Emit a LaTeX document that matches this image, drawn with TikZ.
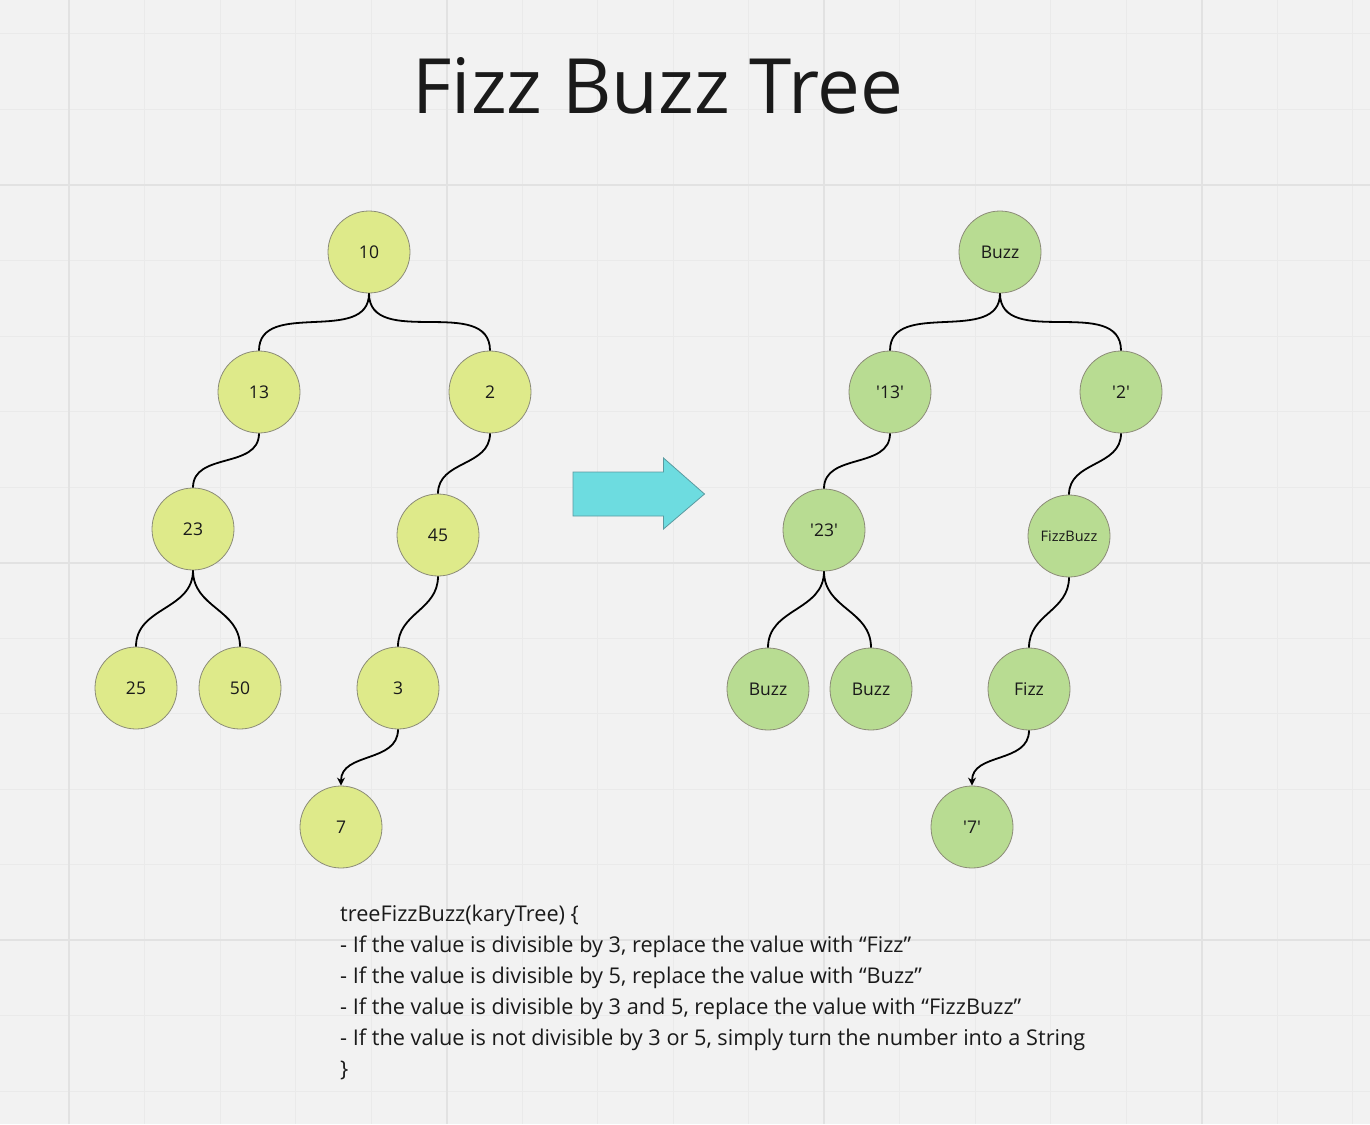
\documentclass[tikz,border=0pt]{standalone}
\usepackage{fontspec}
\setmainfont{Open Sans}
\usetikzlibrary{arrows.meta,calc}
\definecolor{bgc}{HTML}{F2F2F2}
\definecolor{gridminor}{HTML}{EAEAEA}
\definecolor{gridmajor}{HTML}{E2E2E2}
\definecolor{yellownode}{HTML}{DEEA8A}
\definecolor{greennode}{HTML}{B8DC92}
\definecolor{nodeborder}{HTML}{8C8C78}
\definecolor{cyanarrow}{HTML}{6DDCE0}
\definecolor{cyanborder}{HTML}{5A9AA0}
\definecolor{txt}{HTML}{1A1A1A}
\newcommand\treeedge[3][]{\draw[edgeline,#1] let \p1=(#2.south), \p2=(#3.north), \n1={0.42*veclen(\x2-\x1,\y2-\y1)} in (\p1) .. controls (\x1,{\y1-\n1}) and (\x2,{\y2+\n1}) .. (\p2);}
\newcommand\sq{\textquotesingle}
\tikzset{
  basenode/.style={circle, minimum size=82pt, inner sep=0pt, draw=nodeborder, line width=0.8pt, text=txt, font=\fontsize{17.5}{20}\selectfont},
  ynode/.style={basenode, fill=yellownode},
  gnode/.style={basenode, fill=greennode},
  edgeline/.style={draw=black, line width=1.8pt},
  tiparrow/.style={-{Stealth[length=8pt,width=8pt]}},
  codeline/.style={anchor=base west, inner sep=0pt, text=txt, font=\fontsize{21.7}{31}\selectfont}
}
\begin{document}
\begin{tikzpicture}[x=1pt,y=-1pt]
\useasboundingbox (0,0) rectangle (1370,1124);
\fill[bgc] (0,0) rectangle (1370,1124);
% grid
\foreach \k in {-1,...,17} {\draw[gridminor, line width=1pt] ({69+75.5*\k},0) -- ({69+75.5*\k},1124);}
\foreach \k in {-3,...,12} {\draw[gridminor, line width=1pt] (0,{185+75.5*\k}) -- (1370,{185+75.5*\k});}
\foreach \k in {0,5,10,15} {\draw[gridmajor, line width=2pt] ({69+75.5*\k},0) -- ({69+75.5*\k},1124);}
\foreach \k in {0,5,10} {\draw[gridmajor, line width=2pt] (0,{185+75.5*\k}) -- (1370,{185+75.5*\k});}

% title
\node[anchor=base, inner sep=0pt, text=txt, font=\fontsize{76.3}{90}\selectfont] (title) at (658,113) {Fizz Buzz Tree};

% left tree
\node[ynode] (a10) at (369,252) {10};
\node[ynode] (a13) at (259,392) {13};
\node[ynode] (a2)  at (490,392) {2};
\node[ynode] (a23) at (193,529) {23};
\node[ynode] (a45) at (438,535) {45};
\node[ynode] (a25) at (136,688) {25};
\node[ynode] (a50) at (240,688) {50};
\node[ynode] (a3)  at (398,688) {3};
\node[ynode] (a7)  at (341,827) {7};

\treeedge{a10}{a13}
\treeedge{a10}{a2}
\treeedge{a13}{a23}
\treeedge{a2}{a45}
\treeedge{a23}{a25}
\treeedge{a23}{a50}
\treeedge{a45}{a3}
\treeedge[tiparrow]{a3}{a7}

% right tree
\node[gnode] (b10) at (1000,252) {Buzz};
\node[gnode] (b13) at (890,392) {\sq13\sq};
\node[gnode] (b2)  at (1121,392) {\sq2\sq};
\node[gnode] (b23) at (824,530) {\sq23\sq};
\node[gnode, font=\fontsize{14.5}{16}\selectfont] (b45) at (1069,536) {FizzBuzz};
\node[gnode] (b25) at (768,689) {Buzz};
\node[gnode] (b50) at (871,689) {Buzz};
\node[gnode] (b3)  at (1029,689) {Fizz};
\node[gnode] (b7)  at (972,827) {\sq7\sq};

\treeedge{b10}{b13}
\treeedge{b10}{b2}
\treeedge{b13}{b23}
\treeedge{b2}{b45}
\treeedge{b23}{b25}
\treeedge{b23}{b50}
\treeedge{b45}{b3}
\treeedge[tiparrow]{b3}{b7}

% block arrow
\filldraw[fill=cyanarrow, draw=cyanborder, line width=0.8pt]
  (573,472) -- (663.5,472) -- (663.5,458) -- (704.5,494) -- (663.5,529) -- (663.5,516) -- (573,516) -- cycle;

% code text
\node[codeline] (l1) at (340,921) {treeFizzBuzz(karyTree) \{};
\node[codeline] (l2) at (340,952) {- If the value is divisible by 3, replace the value with “Fizz”};
\node[codeline] (l3) at (340,983) {- If the value is divisible by 5, replace the value with “Buzz”};
\node[codeline] (l4) at (340,1014) {- If the value is divisible by 3 and 5, replace the value with “FizzBuzz”};
\node[codeline] (l5) at (340,1045) {- If the value is not divisible by 3 or 5, simply turn the number into a String};
\node[codeline] (l6) at (340,1076) {\}};
\end{tikzpicture}
\end{document}
